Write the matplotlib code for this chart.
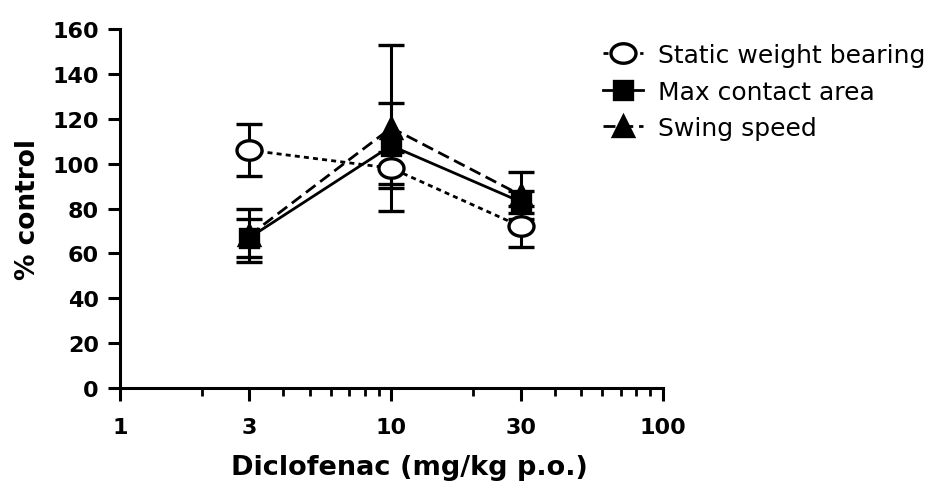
import numpy as np
import matplotlib.pyplot as plt
from matplotlib.lines import Line2D
from matplotlib.path import Path

# Data
doses = [3, 10, 30]
swb_mean = [106, 98, 72]
swb_err = [11.5, 7, 9]
mca_mean = [67, 108, 83]
mca_err = [8.5, 19, 5]
ss_mean = [68, 116, 86]
ss_err = [12, 37, 10.5]

# slightly wide open circle, as drawn in the original
circ = Path.unit_circle()
ellipse = Path(circ.vertices * [1.0, 0.78], circ.codes)

series = [
    ("Static weight bearing", swb_mean, swb_err, ellipse, 'white', (0, (1.8, 1.5)), 18),
    ("Max contact area", mca_mean, mca_err, 's', 'black', '-', 13),
    ("Swing speed", ss_mean, ss_err, '^', 'black', (0, (4.3, 2.1)), 15),
]

plt.rcParams['font.family'] = ['DejaVu Sans']

fig = plt.figure(figsize=(9.36, 4.89), dpi=100)
ax = fig.add_axes([0.128, 0.2045, 0.58, 0.734])

handles = []
for label, m, e, mk, fc, ls, ms in series:
    ax.errorbar(doses, m, yerr=e, color='black', marker=mk, markersize=ms,
                markerfacecolor=fc, markeredgewidth=2.4, linestyle=ls, linewidth=2,
                elinewidth=2.2, capsize=9.7, capthick=3)
    handles.append(Line2D([], [], color='black', marker=mk, markersize=ms,
                          markerfacecolor=fc, markeredgewidth=2.4, linestyle=ls,
                          linewidth=2, label=label))

ax.set_xscale('log')
ax.set_xlim(1, 100)
ax.set_ylim(0, 160)
ax.set_yticks(np.arange(0, 161, 20))
ax.set_xticks([1, 3, 10, 30, 100])
ax.set_xticklabels(['1', '3', '10', '30', '100'])
ax.set_xticks([2, 4, 5, 6, 7, 8, 9, 20, 40, 50, 60, 70, 80, 90], minor=True)
ax.xaxis.set_minor_formatter(plt.NullFormatter())

for s in ['top', 'right']:
    ax.spines[s].set_visible(False)
for s in ['left', 'bottom']:
    ax.spines[s].set_linewidth(2.2)

ax.tick_params(axis='both', which='major', width=2.2, length=9, labelsize=16)
ax.tick_params(axis='x', which='major', pad=12)
ax.tick_params(axis='y', which='major', pad=6)
ax.tick_params(axis='x', which='minor', width=2, length=6)
for t in ax.get_xticklabels() + ax.get_yticklabels():
    t.set_fontweight('bold')

ax.set_ylabel('% control', fontsize=19, fontweight='bold', labelpad=8)
ax.set_xlabel('Diclofenac (mg/kg p.o.)', fontsize=19.5, fontweight='bold')
ax.xaxis.set_label_coords(0.534, -0.185)

ax.legend(handles=handles, loc='upper left', bbox_to_anchor=(603 / 936, 1 - 44 / 489),
          bbox_transform=fig.transFigure, frameon=False, fontsize=18,
          handlelength=1.6, handletextpad=0.6, labelspacing=0.5,
          borderaxespad=0, borderpad=0)

fig.savefig('out.png', dpi=100)
